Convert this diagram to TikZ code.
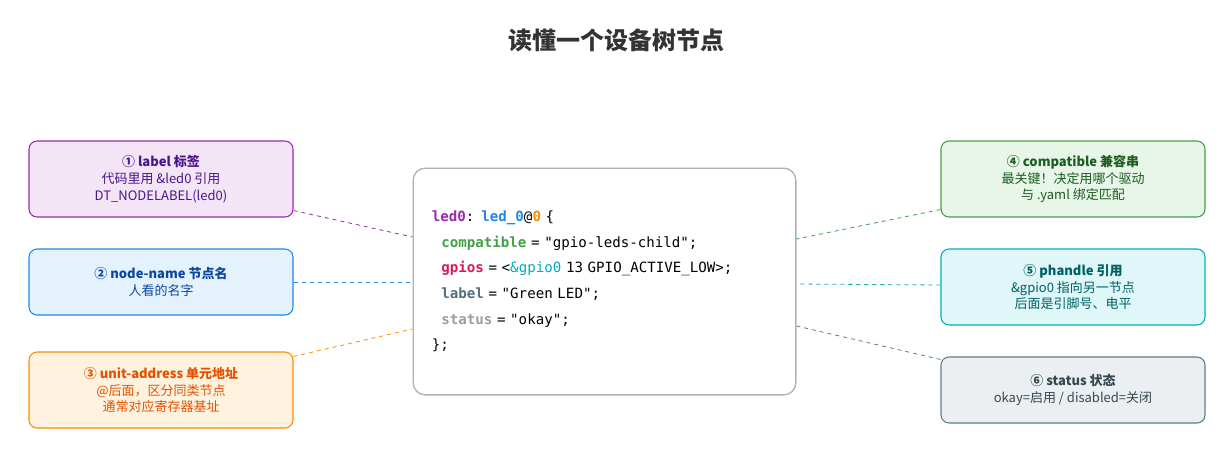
\documentclass[tikz,border=0pt]{standalone}
\usepackage{fontspec}
\setmainfont{Noto Sans CJK SC}
\setmonofont{DejaVu Sans Mono}
\usetikzlibrary{positioning}
\definecolor{pBd}{HTML}{9C27B0}\definecolor{pBg}{HTML}{F3E5F5}\definecolor{pTx}{HTML}{4A148C}
\definecolor{bBd}{HTML}{1E88E5}\definecolor{bBg}{HTML}{E3F2FD}\definecolor{bTx}{HTML}{0D47A1}
\definecolor{oBd}{HTML}{FB8C00}\definecolor{oBg}{HTML}{FFF3E0}\definecolor{oTx}{HTML}{E65100}
\definecolor{gBd}{HTML}{43A047}\definecolor{gBg}{HTML}{E8F5E9}\definecolor{gTx}{HTML}{1B5E20}
\definecolor{cBd}{HTML}{00ACC1}\definecolor{cBg}{HTML}{E0F7FA}\definecolor{cTx}{HTML}{006064}
\definecolor{sBd}{HTML}{607D8B}\definecolor{sBg}{HTML}{ECEFF1}\definecolor{sTx}{HTML}{37474F}
\definecolor{kPink}{HTML}{D81B60}\definecolor{kLbl}{HTML}{546E7A}\definecolor{kGray}{HTML}{9E9E9E}
\tikzset{
  notebox/.style={draw=#1Bd,fill=#1Bg,text=#1Tx,rounded corners=6pt,line width=0.8pt,
    minimum width=198pt,minimum height=57pt,align=center,font=\fontsize{9.75}{12.5}\selectfont},
  link/.style={draw=#1Bd,dashed,line width=0.6pt}
}
\begin{document}
\begin{tikzpicture}[x=0.75pt,y=-0.75pt]
    % frame
    \useasboundingbox[fill=white] (0,0) rectangle (1232,458);

    % title
    \node[font=\bfseries\fontsize{18}{20}\selectfont,text=black!80] (title) at (616,40) {读懂一个设备树节点};

    % code
    \node[draw=black!30,fill=white,rounded corners=9pt,line width=1pt,minimum width=287pt,minimum height=170pt,
      text width=259pt,align=left,font=\ttfamily\fontsize{10.6}{19.2}\selectfont] (code) at (604.5,281.5)
      {\textcolor{pBd}{\bfseries led0}: \textcolor{bBd}{\bfseries led\_0}@\textcolor{oBd}{\bfseries 0} \{\\
       \ \ \textcolor{gBd}{\bfseries compatible} = "gpio-leds-child";\\
       \ \ \textcolor{kPink}{\bfseries gpios} = <\textcolor{cBd}{\&gpio0} 13 GPIO\_ACTIVE\_LOW>;\\
       \ \ \textcolor{kLbl}{\bfseries label} = "Green LED";\\
       \ \ \textcolor{kGray}{\bfseries status} = "okay";\\
       \};};

    % left notes
    \node[notebox=p] (lbl) at (161,179) {\textbf{① label 标签}\\代码里用 \&led0 引用\\DT\_NODELABEL(led0)};
    \node[notebox=b,minimum height=49.5pt] (nname) at (161,282) {\textbf{② node-name 节点名}\\人看的名字};
    \node[notebox=o] (uaddr) at (161,390) {\textbf{③ unit-address 单元地址}\\@后面，区分同类节点\\通常对应寄存器基址};

    % right notes
    \node[notebox=g] (compat) at (1073,179) {\textbf{④ compatible 兼容串}\\最关键！决定用哪个驱动\\与 .yaml 绑定匹配};
    \node[notebox=c] (phandle) at (1073,287) {\textbf{⑤ phandle 引用}\\\&gpio0 指向另一节点\\后面是引脚号、电平};
    \node[notebox=s,minimum height=49.5pt] (stat) at (1073,390) {\textbf{⑥ status 状态}\\okay=启用 / disabled=关闭};

    % connectors
    \draw[link=p] (lbl.south east) ++(0,-7) -- (code.west |- 0,237);
    \draw[link=b] (nname.east) -- (code.west |- 0,282);
    \draw[link=o] (uaddr.north east) ++(0,5) -- (code.west |- 0,329);
    \draw[link=g] (compat.south west) ++(0,-8) -- (code.east |- 0,239);
    \draw[link=c] (phandle.west) ++(0,-2) -- (code.east |- 0,284);
    \draw[link=s] (stat.north west) ++(0,3) -- (code.east |- 0,326);
\end{tikzpicture}
\end{document}
